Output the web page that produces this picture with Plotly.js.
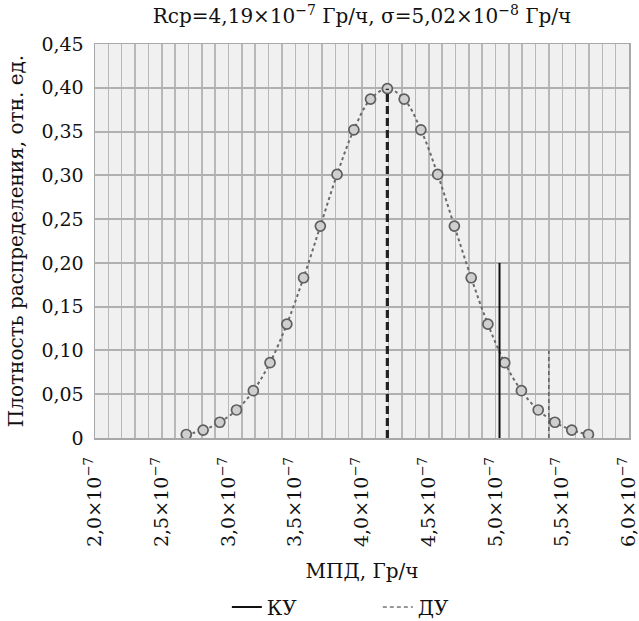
<!DOCTYPE html>
<html><head><meta charset="utf-8">
<script src="https://cdn.plot.ly/plotly-3.0.1.min.js"></script>
<style>html,body{margin:0;padding:0;background:#fff}#chart{width:639px;height:621px}</style>
</head><body><div id="chart"></div>
<script>
// Distribution points (x in Gy/h, y in relative units)
const doseX = [2.684e-7,2.810e-7,2.935e-7,3.060e-7,3.186e-7,3.311e-7,3.437e-7,3.562e-7,3.688e-7,3.813e-7,3.939e-7,4.064e-7,4.190e-7,4.316e-7,4.441e-7,4.567e-7,4.692e-7,4.818e-7,4.943e-7,5.069e-7,5.194e-7,5.320e-7,5.445e-7,5.571e-7,5.696e-7];
const density = [0.004,0.009,0.018,0.032,0.054,0.086,0.130,0.183,0.242,0.301,0.352,0.387,0.399,0.387,0.352,0.301,0.242,0.183,0.130,0.086,0.054,0.032,0.018,0.009,0.004];
// Mean line
const meanX = [4.19e-7, 4.19e-7];
const meanY = [0, 0.399];
// КУ and ДУ levels
const kuX = [5.03e-7, 5.03e-7];
const kuY = [0, 0.20];
const duX = [5.40e-7, 5.40e-7];
const duY = [0, 0.10];
// Tick labels
const xTickVals = [2.0e-7,2.5e-7,3.0e-7,3.5e-7,4.0e-7,4.5e-7,5.0e-7,5.5e-7,6.0e-7];
const xTickText = ['2,0×10<sup>−7</sup>','2,5×10<sup>−7</sup>','3,0×10<sup>−7</sup>','3,5×10<sup>−7</sup>','4,0×10<sup>−7</sup>','4,5×10<sup>−7</sup>','5,0×10<sup>−7</sup>','5,5×10<sup>−7</sup>','6,0×10<sup>−7</sup>'];
const yTickVals = [0,0.05,0.10,0.15,0.20,0.25,0.30,0.35,0.40,0.45];
const yTickText = ['0','0,05','0,10','0,15','0,20','0,25','0,30','0,35','0,40','0,45'];

const serif = 'DejaVu Serif';
const traces = [
  {x: doseX, y: density, mode: 'lines+markers', type: 'scatter', showlegend: false,
   line: {color: '#6a6a6a', width: 2, dash: 'dot', shape: 'spline'},
   marker: {symbol: 'circle', size: 10, color: '#cfcfcf', line: {color: '#5e5e5e', width: 1.7}}},
  {x: meanX, y: meanY, mode: 'lines', type: 'scatter', showlegend: false,
   line: {color: '#222', width: 3.2, dash: '8px,4px'}},
  {x: kuX, y: kuY, mode: 'lines', type: 'scatter', name: 'КУ',
   line: {color: '#111', width: 2}},
  {x: duX, y: duY, mode: 'lines', type: 'scatter', name: 'ДУ',
   line: {color: '#333', width: 1, dash: '4px,3px'}}
];
const layout = {
  width: 639, height: 621,
  margin: {l: 95, r: 10, t: 44, b: 183},
  paper_bgcolor: '#fff', plot_bgcolor: '#f0f0f0',
  font: {family: serif, size: 19, color: '#111'},
  title: {text: 'Rcp=4,19×10<sup>−7</sup> Гр/ч, σ=5,02×10<sup>−8</sup> Гр/ч',
          font: {family: serif, size: 20, color: '#111'}, x: 0.5, xref: 'paper', xanchor: 'center', y: 0.974, yanchor: 'middle'},
  xaxis: {range: [2e-7, 6e-7], tickmode: 'array', tickvals: xTickVals, ticktext: xTickText, automargin: false,
          ticklabeloverflow: 'allow',
          tickangle: -90, ticks: '', ticklabelstandoff: 10, showline: true, linecolor: '#a8a8a8', linewidth: 1.5, mirror: true,
          gridcolor: '#b8b8b8', gridwidth: 1.5, zeroline: false,
          minor: {tickmode: 'linear', tick0: 2e-7, dtick: 1e-8, showgrid: true, gridcolor: '#b8b8b8', gridwidth: 1.5, ticks: ''},
          tickfont: {family: serif, size: 19},
          title: {text: 'МПД, Гр/ч', font: {family: serif, size: 20}, standoff: 18}},
  yaxis: {range: [0, 0.45], tickmode: 'array', tickvals: yTickVals, ticktext: yTickText, automargin: false,
          ticks: '', ticklabelstandoff: 6, showline: true, linecolor: '#a8a8a8', linewidth: 1.5, mirror: true,
          gridcolor: '#b0b0b0', gridwidth: 2, zeroline: false,
          tickfont: {family: serif, size: 19},
          title: {text: 'Плотность распределения, отн. ед.', font: {family: serif, size: 20}, standoff: 12}},
  legend: {orientation: 'h', xref: 'container', yref: 'container', x: 0.355, xanchor: 'left', y: 0.0225, yanchor: 'middle',
           font: {family: serif, size: 20}, entrywidth: 106, bgcolor: 'rgba(0,0,0,0)'}
};
Plotly.newPlot('chart', traces, layout, {displayModeBar: false, staticPlot: true});
</script></body></html>
